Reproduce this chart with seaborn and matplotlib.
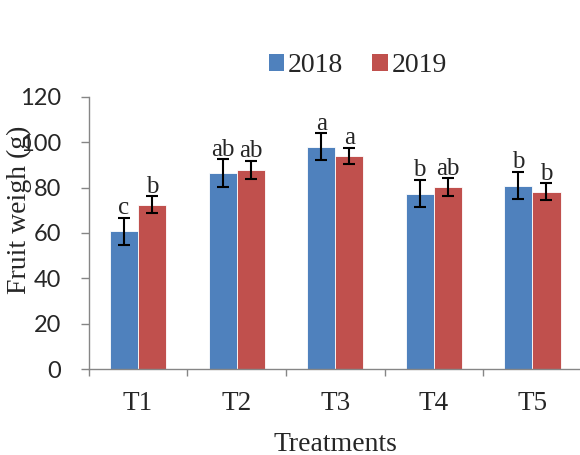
import pandas as pd
import matplotlib.pyplot as plt
import seaborn as sns
import numpy as np
from matplotlib.patches import Patch

# данные
treatments = ['T1', 'T2', 'T3', 'T4', 'T5']
years = ['2018', '2019']
weight_2018 = [60.7, 86.3, 98.0, 77.4, 80.9]
weight_2019 = [72.4, 87.8, 93.9, 80.3, 78.2]
err_2018 = [6.0, 6.2, 6.0, 6.1, 6.1]
err_2019 = [3.7, 3.9, 3.6, 3.8, 3.7]
letters_2018 = ['c', 'ab', 'a', 'b', 'b']
letters_2019 = ['b', 'ab', 'a', 'ab', 'b']

df = pd.DataFrame({
    'Treatment': treatments * 2,
    'Year': ['2018'] * 5 + ['2019'] * 5,
    'Weight': weight_2018 + weight_2019,
})

sns.set_style("white")
plt.rcParams['font.family'] = ['Liberation Serif', 'DejaVu Serif']

palette = {'2018': '#4F81BD', '2019': '#C0504D'}
axis_gray = '#868686'

fig = plt.figure(figsize=(5.8, 4.55), dpi=100)
ax = fig.add_axes([0.153, 0.189, 0.85, 0.598])

sns.barplot(data=df, x='Treatment', y='Weight', hue='Year', order=treatments,
            hue_order=years, palette=palette, width=0.57, gap=0,
            edgecolor='white', linewidth=0.6, saturation=1, legend=False,
            errorbar=None, ax=ax)

# планки погрешностей и буквы
bars = ax.patches
heights = weight_2018 + weight_2019
errs = err_2018 + err_2019
letters = letters_2018 + letters_2019
for p, h, e, lab in zip(bars, heights, errs, letters):
    xc = p.get_x() + p.get_width() / 2
    ax.errorbar(xc, h, yerr=e, fmt='none', ecolor='black', elinewidth=1.5,
                capsize=4.6, capthick=1.5)
    ax.annotate(lab, (xc, h + e), xytext=(0, -1), textcoords='offset points',
                ha='center', va='bottom', fontsize=18)

ax.set_ylim(0, 120)
ax.set_yticks(range(0, 121, 20))
ax.set_xlim(-0.5, 4.5)
ax.set_xticks(np.arange(-0.5, 5, 1), minor=True)

for s in ['top', 'right']:
    ax.spines[s].set_visible(False)
for s in ['left', 'bottom']:
    ax.spines[s].set_color(axis_gray)
    ax.spines[s].set_linewidth(1.0)

ax.tick_params(axis='x', which='major', length=0, pad=16, labelsize=19.5)
ax.tick_params(axis='x', which='minor', length=5, width=1, color=axis_gray,
               direction='out', bottom=True)
ax.tick_params(axis='y', length=6, width=1, color=axis_gray, direction='out',
               left=True, pad=14, labelsize=17)
for t in ax.get_yticklabels():
    t.set_fontfamily(['Lato', 'DejaVu Sans'])

ax.set_xlabel('Treatments', fontsize=20, labelpad=11)
ax.set_ylabel('Fruit weigh (g)', fontsize=20)
ax.yaxis.set_label_coords(-0.115, 0.585)

handles = [Patch(facecolor=palette[y], edgecolor='none') for y in years]
fig.legend(handles, years, loc='center', bbox_to_anchor=(0.617, 0.855),
           ncol=2, frameon=False, fontsize=20, handlelength=0.55,
           handleheight=0.55, handletextpad=0.15, columnspacing=1.05)

fig.savefig('out.png', dpi=100)
